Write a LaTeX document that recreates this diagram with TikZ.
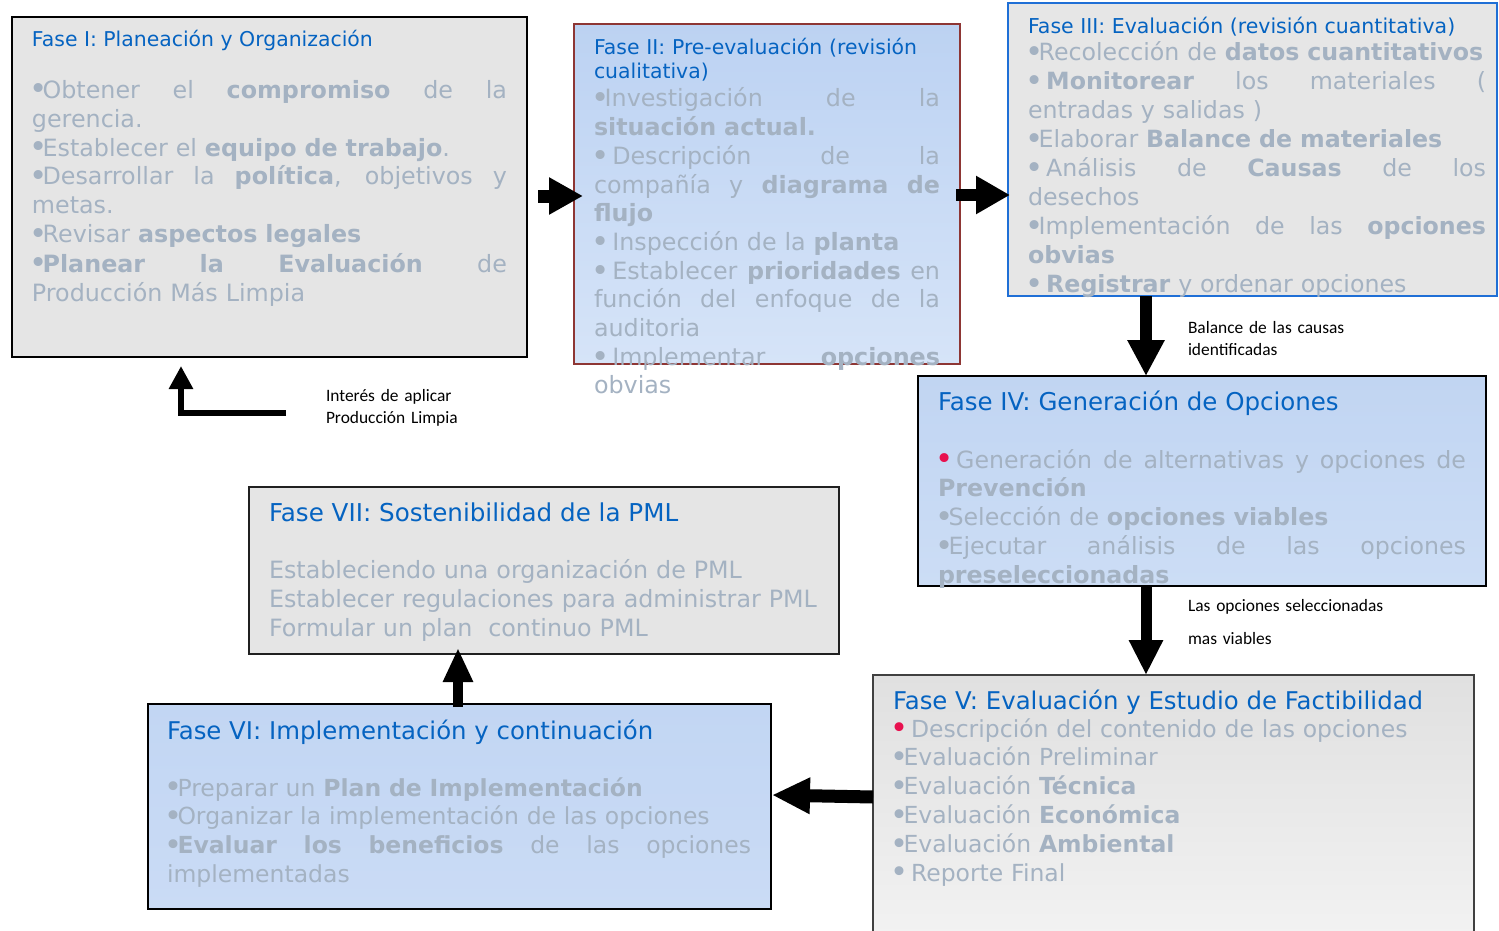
\documentclass[tikz,border=0pt]{standalone}
\usepackage{fontspec}
\setmainfont{DejaVu Sans}
\newfontfamily\notefont{Carlito}
\usetikzlibrary{arrows.meta,calc}

\definecolor{ttl}{HTML}{0563C1}
\definecolor{bdy}{HTML}{A4B2C2}
\definecolor{redbul}{HTML}{E8114F}
\definecolor{boxgray}{HTML}{E5E5E5}
\definecolor{boxgrayb}{HTML}{E6E6E6}
\definecolor{edgered}{HTML}{8E3634}
\definecolor{edgeblue}{HTML}{1F6FD6}
\definecolor{edgedark}{HTML}{404040}
\definecolor{edgeseven}{HTML}{202020}
\definecolor{twotop}{HTML}{BCD2F2}
\definecolor{twobot}{HTML}{D6E4F8}
\definecolor{fourtop}{HTML}{C1D5F2}
\definecolor{fourbot}{HTML}{CCDDF5}
\definecolor{fivetop}{HTML}{E0E0E0}
\definecolor{fivebot}{HTML}{F3F3F3}
\definecolor{sixtop}{HTML}{C2D6F3}
\definecolor{sixbot}{HTML}{CADBF5}

% a line whose word spaces are stretched to the full column width \jw
\newlength\jw
\newcommand\jl[1]{\makebox[\jw][s]{\spaceskip=0.32em plus 30em\relax #1}}
\newcommand\B[1]{\textbf{#1}}
% larger bullet, close to the following word; \bs adds a fixed gap
\newcommand\bu{\leavevmode\kern-0.1em\raisebox{-0.08em}{\scalebox{1.3}{•}}\kern-0.22em}
\newcommand\bs{\bu\kern0.32em}
\newcommand\rb{{\color{redbul}\bu}\kern0.32em}

\tikzset{
  box/.style={anchor=north west, inner sep=0pt, outer sep=0pt, line width=1pt},
  txt/.style={anchor=base west, inner sep=0pt, outer sep=0pt, align=left},
  head/.style={txt, text=ttl},
  body/.style={txt, text=bdy, text width=#1, execute at begin node={\setlength\jw{#1}}},
  note/.style={txt, text=black, text width=110pt, font=\notefont\fontsize{8.7pt}{11pt}\selectfont},
  blk/.style={draw=black, line width=#1},
}

\begin{document}
\begin{tikzpicture}[x=0.5pt,y=-0.5pt]
\useasboundingbox (0,0) rectangle (1499,931);

% ---------- phase boxes ----------
\node[box, fill=boxgray, draw=black, line width=1.2pt,
      minimum width=257.5pt, minimum height=170pt] (f1) at (12,17) {};
\node[box, top color=twotop, bottom color=twobot, draw=edgered,
      minimum width=193pt, minimum height=170pt] (f2) at (574,24) {};
\node[box, fill=boxgrayb, draw=edgeblue,
      minimum width=244.5pt, minimum height=146.5pt] (f3) at (1008,3) {};
\node[box, top color=fourtop, bottom color=fourbot, draw=black,
      minimum width=284pt, minimum height=105pt] (f4) at (918,376) {};
\node[box, top color=fivetop, bottom color=fivebot, draw=edgedark, line width=0.8pt,
      minimum width=300.5pt, minimum height=137.5pt] (f5) at (873,675) {};
\node[box, top color=sixtop, bottom color=sixbot, draw=black,
      minimum width=311.5pt, minimum height=102.5pt] (f6) at (148,704) {};
\node[box, fill=boxgray, draw=edgeseven,
      minimum width=295pt, minimum height=83.5pt] (f7) at (249,487) {};

% ---------- Fase I ----------
\node[head, font=\fontsize{10.2pt}{12pt}\selectfont] (f1h) at (32,47)
  {Fase I: Planeación y Organización};
\node[body=237.5pt, font=\fontsize{11.9pt}{14.5pt}\selectfont] (f1b) at (32,98) {%
  \jl{\bu Obtener el \B{compromiso} de la}\\
  gerencia.\\
  \bu Establecer el \B{equipo de trabajo}.\\
  \jl{\bu Desarrollar la \B{política}, objetivos y}\\
  metas.\\
  \bu Revisar \B{aspectos legales}\\
  \jl{\bu\B{Planear la Evaluación} de}\\
  Producción Más Limpia};

% ---------- Fase II ----------
\node[head, text width=173pt, font=\fontsize{10.2pt}{12pt}\selectfont] (f2h) at (594,55)
  {Fase II: Pre-evaluación (revisión\\cualitativa)};
\node[body=173pt, font=\fontsize{11.9pt}{14.35pt}\selectfont] (f2b) at (594,107) {%
  \jl{\bu Investigación de la}\\
  \B{situación actual.}\\
  \jl{\bs Descripción de la}\\
  \jl{compañía y \B{diagrama de}}\\
  \B{flujo}\\
  \bs Inspección de la \B{planta}\\
  \jl{\bs Establecer \B{prioridades} en}\\
  \jl{función del enfoque de la}\\
  auditoria\\
  \jl{\bs Implementar \B{opciones}}\\
  obvias};

% ---------- Fase III ----------
\node[head, font=\fontsize{10.25pt}{12pt}\selectfont] (f3h) at (1028,34)
  {Fase III: Evaluación (revisión cuantitativa)};
\node[body=229pt, font=\fontsize{11.85pt}{14.48pt}\selectfont] (f3b) at (1028,61) {%
  \bu Recolección de \B{datos cuantitativos}\\
  \jl{\bs\B{Monitorear} los materiales (}\\
  entradas y salidas )\\
  \bu Elaborar \B{Balance de materiales}\\
  \jl{\bs Análisis de \B{Causas} de los}\\
  desechos\\
  \jl{\bu Implementación de las \B{opciones}}\\
  \B{obvias}\\
  \bs\B{Registrar} y ordenar opciones};

% ---------- Fase IV ----------
\node[head, font=\fontsize{12.25pt}{14pt}\selectfont] (f4h) at (938,410)
  {Fase IV: Generación de Opciones};
\node[body=264pt, font=\fontsize{11.85pt}{14.38pt}\selectfont] (f4b) at (938,468) {%
  \jl{\rb Generación de alternativas y opciones de}\\
  \B{Prevención}\\
  \bu Selección de \B{opciones viables}\\
  \jl{\bu Ejecutar análisis de las opciones}\\
  \B{preseleccionadas}};

% ---------- Fase V ----------
\node[head, font=\fontsize{12.2pt}{14pt}\selectfont] (f5h) at (893,709)
  {Fase V: Evaluación y Estudio de Factibilidad};
\node[body=290pt, font=\fontsize{11.75pt}{14.4pt}\selectfont] (f5b) at (893,737) {%
  \rb Descripción del contenido de las opciones\\
  \bu Evaluación Preliminar\\
  \bu Evaluación \B{Técnica}\\
  \bu Evaluación \B{Económica}\\
  \bu Evaluación \B{Ambiental}\\
  \bs Reporte Final};

% ---------- Fase VI ----------
\node[head, font=\fontsize{12.2pt}{14pt}\selectfont] (f6h) at (167,739)
  {Fase VI: Implementación y continuación};
\node[body=292pt, font=\fontsize{11.75pt}{14.35pt}\selectfont] (f6b) at (167,796) {%
  \bu Preparar un \B{Plan de Implementación}\\
  \bu Organizar la implementación de las opciones\\
  \jl{\bu\B{Evaluar los beneficios} de las opciones}\\
  implementadas};

% ---------- Fase VII ----------
\node[head, font=\fontsize{12.3pt}{14pt}\selectfont] (f7h) at (269,521)
  {Fase VII: Sostenibilidad de la PML};
\node[body=290pt, font=\fontsize{11.9pt}{14.5pt}\selectfont] (f7b) at (269,578) {%
  Estableciendo una organización de PML\\
  Establecer regulaciones para administrar PML\\
  Formular un plan\ \ continuo PML};

% ---------- connectors ----------
\draw[blk=6.5pt, -{Triangle[width=17.5pt,length=17pt]}]
  ($(f1.east)+(11,9)$) -- ($(f2.west)+(9,2)$);
\draw[blk=6pt, -{Triangle[width=18pt,length=17pt]}]
  ($(f2.east)+(-4,1)$) -- ($(f3.west)+(2,45.5)$);
\draw[blk=6pt, -{Triangle[width=17.5pt,length=18pt]}]
  ($(f3.south west)+(138,0)$) -- ($(f4.north west)+(228,0)$);
\draw[blk=5.5pt, -{Triangle[width=16pt,length=17.5pt]}]
  ($(f4.south west)+(228,0)$) -- ($(f5.north west)+(273,0)$);
\draw[blk=6.5pt, -{Triangle[width=17pt,length=19pt]}]
  ($(f5.north west)+(0,122)$) -- ($(f6.north east)+(1,91)$);
\draw[blk=5pt, -{Triangle[width=14pt,length=17pt]}]
  ($(f6.north west)+(310,3)$) -- ($(f7.south west)+(209,-6)$);
\coordinate (start) at (286,413);
\draw[blk=3.3pt, -{Triangle[width=11.5pt,length=11.5pt]}]
  (start) -| ($(f1.south west)+(169,9)$);

% ---------- connector notes ----------
\node[note] (n34) at (1188,333) {Balance de las causas\\identificadas};
\node[note, font=\notefont\fontsize{8.7pt}{16.5pt}\selectfont] (n45) at (1188,611)
  {Las opciones seleccionadas\\mas viables};
\node[note] (n01) at (326,401) {Interés de aplicar\\Producción Limpia};
\end{tikzpicture}
\end{document}
